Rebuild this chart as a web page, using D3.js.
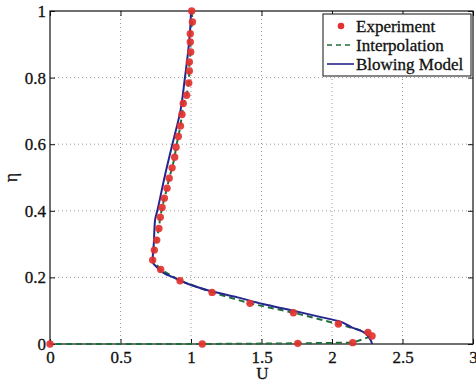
<!DOCTYPE html>
<html>
<head>
<meta charset="utf-8">
<script src="https://cdn.jsdelivr.net/npm/d3@7"></script>
<style>
  html, body { margin: 0; padding: 0; background: #fff; }
  svg text { font-family: "Liberation Serif", "Times New Roman", serif; fill: #111; stroke: #111; stroke-width: 0.3px; }
</style>
</head>
<body>
<svg id="chart" width="476" height="383"></svg>
<script>
// Measured velocity profile (U vs. eta), ordered along the profile path
const expU = [1.005, 1.010, 0.995, 0.995, 0.998, 0.988, 0.988, 0.984, 0.969, 0.945,
              0.936, 0.925, 0.910, 0.894, 0.884, 0.866, 0.845, 0.830, 0.811, 0.795,
              0.782, 0.772, 0.757, 0.740, 0.728, 0.785, 0.922, 1.149, 1.418, 1.726,
              2.045, 2.255, 2.284, 2.147, 1.757, 1.080, 0.000];
const expEta = [1.000, 0.967, 0.932, 0.907, 0.877, 0.847, 0.820, 0.784, 0.747, 0.722,
                0.689, 0.655, 0.623, 0.591, 0.561, 0.529, 0.498, 0.468, 0.438, 0.410,
                0.381, 0.347, 0.312, 0.282, 0.252, 0.224, 0.190, 0.155, 0.122, 0.094,
                0.060, 0.035, 0.024, 0.004, 0.002, 0.000, 0.000];

// Blowing model prediction
const modelU = [1.000, 0.995, 0.985, 0.972, 0.957, 0.925, 0.868, 0.812, 0.761, 0.745,
                0.736, 0.729, 0.730, 0.760, 0.820, 0.875, 0.980, 1.130, 1.330, 1.510,
                1.726, 1.930, 2.045, 2.140, 2.218, 2.262, 2.285];
const modelEta = [1.000, 0.950, 0.900, 0.850, 0.800, 0.700, 0.600, 0.500, 0.400, 0.372,
                  0.300, 0.260, 0.245, 0.230, 0.210, 0.200, 0.180, 0.160, 0.140, 0.120,
                  0.100, 0.080, 0.069, 0.050, 0.037, 0.020, 0.000];

const xTicks = [0, 0.5, 1, 1.5, 2, 2.5, 3];
const yTicks = [0, 0.2, 0.4, 0.6, 0.8, 1];
const seriesNames = ["Experiment", "Interpolation", "Blowing Model"];

const colors = { exp: "#e2322f", interp: "#1f6e3a", model: "#25258f" };
const serif = "'Liberation Serif', 'Times New Roman', serif";

const svg = d3.select("#chart");
const plotL = 50, plotR = 473, plotT = 11, plotB = 344;

const x = d3.scaleLinear().domain([0, 3]).range([plotL, plotR]);
const y = d3.scaleLinear().domain([0, 1]).range([plotB, plotT]);

// Grid
const grid = svg.append("g").attr("stroke", "#8c8c8c").attr("stroke-width", 0.9)
  .attr("stroke-dasharray", "1,3");
grid.selectAll("line.gx").data(xTicks.slice(1, -1)).enter().append("line")
  .attr("x1", d => x(d)).attr("x2", d => x(d)).attr("y1", plotT).attr("y2", plotB);
grid.selectAll("line.gy").data(yTicks.slice(1, -1)).enter().append("line")
  .attr("y1", d => y(d)).attr("y2", d => y(d)).attr("x1", plotL).attr("x2", plotR);

// Axes (ticks pointing inward on all four sides)
const fmt = d => d3.format("~g")(d);
const styleAxis = g => {
  g.attr("font-family", serif).attr("font-size", 17);
  g.select(".domain").remove();
  g.selectAll("line").attr("stroke", "#111").attr("stroke-width", 1);
  g.selectAll("text").style("font-family", serif).style("font-size", "17px").attr("fill", "#111");
};
svg.append("g").attr("transform", `translate(0,${plotB})`)
  .call(d3.axisBottom(x).tickValues(xTicks).tickFormat(fmt).tickSizeInner(-5).tickPadding(7))
  .call(styleAxis);
svg.append("g").attr("transform", `translate(0,${plotT})`)
  .call(d3.axisTop(x).tickValues(xTicks).tickFormat("").tickSizeInner(-5))
  .call(styleAxis);
svg.append("g").attr("transform", `translate(${plotL},0)`)
  .call(d3.axisLeft(y).tickValues(yTicks).tickFormat(fmt).tickSizeInner(-5).tickPadding(4))
  .call(styleAxis);
svg.append("g").attr("transform", `translate(${plotR},0)`)
  .call(d3.axisRight(y).tickValues(yTicks).tickFormat("").tickSizeInner(-5))
  .call(styleAxis);

svg.append("rect").attr("x", plotL).attr("y", plotT)
  .attr("width", plotR - plotL).attr("height", plotB - plotT)
  .attr("fill", "none").attr("stroke", "#111").attr("stroke-width", 1.2);

// Axis labels
svg.append("text").attr("x", x(1.5) + 1).attr("y", 378.5).attr("text-anchor", "middle")
  .style("font-size", "17px").text("U");
svg.append("text").attr("transform", `translate(17,${y(0.5)}) rotate(-90)`)
  .attr("text-anchor", "middle").style("font-size", "18px").text("η");

const expData = expU.map((u, i) => [u, expEta[i]]);
const modelData = modelU.map((u, i) => [u, modelEta[i]]);
const line = d3.line().x(d => x(d[0])).y(d => y(d[1]));

// Interpolation through the measured points
svg.append("path").datum(expData).attr("d", line)
  .attr("fill", "none").attr("stroke", colors.interp).attr("stroke-width", 2)
  .attr("stroke-dasharray", "6,4");

// Blowing model
svg.append("path").datum(modelData).attr("d", line.curve(d3.curveMonotoneY))
  .attr("fill", "none").attr("stroke", colors.model).attr("stroke-width", 2);

// Experiment markers
svg.append("g").selectAll("circle").data(expData).enter().append("circle")
  .attr("cx", d => x(d[0])).attr("cy", d => y(d[1])).attr("r", 3.7)
  .attr("fill", colors.exp).attr("opacity", 0.92);

// Legend
const lg = svg.append("g");
lg.append("rect").attr("x", 323).attr("y", 14).attr("width", 148).attr("height", 62)
  .attr("fill", "#fff").attr("stroke", "#111").attr("stroke-width", 1);
const rowY = [26, 45, 64];
lg.append("circle").attr("cx", 341).attr("cy", rowY[0]).attr("r", 3.3).attr("fill", colors.exp);
lg.append("line").attr("x1", 327).attr("x2", 354).attr("y1", rowY[1]).attr("y2", rowY[1])
  .attr("stroke", colors.interp).attr("stroke-width", 1.6).attr("stroke-dasharray", "5,4");
lg.append("line").attr("x1", 327).attr("x2", 354).attr("y1", rowY[2]).attr("y2", rowY[2])
  .attr("stroke", colors.model).attr("stroke-width", 1.6);
lg.selectAll("text").data(seriesNames).enter().append("text")
  .attr("x", 356).attr("y", (d, i) => rowY[i] + 6)
  .style("font-size", "17px").text(d => d);
</script>
</body>
</html>
